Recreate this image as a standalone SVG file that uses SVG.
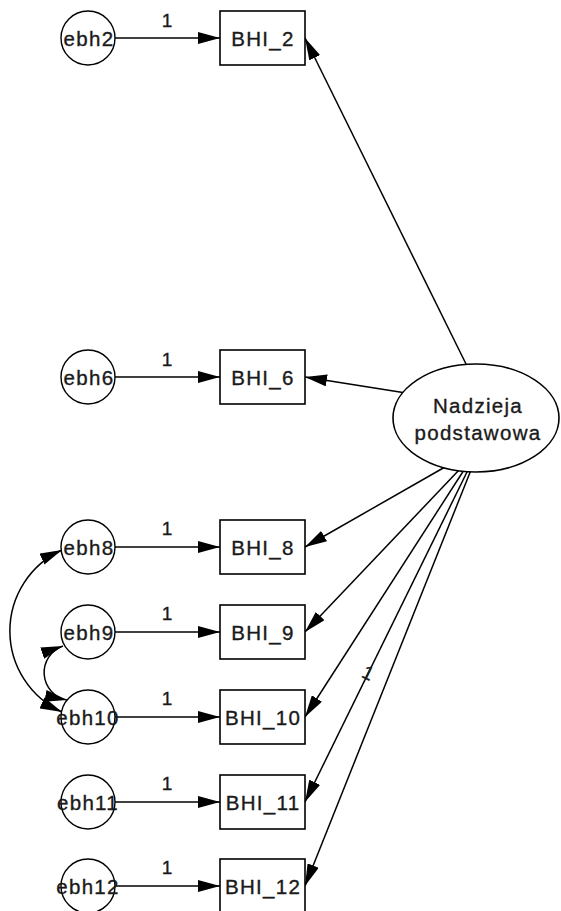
<svg xmlns="http://www.w3.org/2000/svg" width="561" height="911" viewBox="0 0 561 911">
  <style>
    text { font-family: "Liberation Sans", Arial, sans-serif; font-size: 20.5px; letter-spacing: 1.3px; fill: #1a1a1a; stroke: #1a1a1a; stroke-width: 0.35; text-anchor: middle; }
    .lbl { font-size: 19px; letter-spacing: 0; }
    .err { fill: #fff; stroke: #000; stroke-width: 1.4; }
    .obs { fill: #fff; stroke: #000; stroke-width: 1.6; }
    .lat { fill: #fff; stroke: #000; stroke-width: 1.6; }
    .path { fill: none; stroke: #000; stroke-width: 1.5; marker-end: url(#ah); }
    .cov { fill: none; stroke: #000; stroke-width: 1.5; marker-start: url(#ahs); marker-end: url(#ah); }
  </style>
  <defs>
    <marker id="ah" viewBox="0 0 22 12" refX="22" refY="6" markerWidth="22" markerHeight="12" markerUnits="userSpaceOnUse" orient="auto">
      <path d="M0,0 L22,6 L0,12 z" fill="#000"/>
    </marker>
    <marker id="ahs" viewBox="0 0 22 12" refX="22" refY="6" markerWidth="22" markerHeight="12" markerUnits="userSpaceOnUse" orient="auto-start-reverse">
      <path d="M0,0 L22,6 L0,12 z" fill="#000"/>
    </marker>
  </defs>

  <rect width="561" height="911" fill="#fff"/>

  <!-- connectors: error terms to indicators, factor loadings, covariances -->
  <g id="connectors">
    <line class="path" x1="115" y1="38" x2="220" y2="38"/>
    <line class="path" x1="115" y1="377" x2="220" y2="377"/>
    <line class="path" x1="115" y1="547" x2="220" y2="547"/>
    <line class="path" x1="115" y1="632" x2="220" y2="632"/>
    <line class="path" x1="115" y1="717" x2="220" y2="717"/>
    <line class="path" x1="115" y1="802" x2="220" y2="802"/>
    <line class="path" x1="115" y1="886" x2="220" y2="886"/>

    <line class="path" x1="468" y1="368" x2="305" y2="38"/>
    <line class="path" x1="406" y1="393" x2="305" y2="377"/>
    <line class="path" x1="445" y1="467" x2="305" y2="547"/>
    <line class="path" x1="459" y1="470" x2="305" y2="632"/>
    <line class="path" x1="464" y1="470" x2="305" y2="717"/>
    <line class="path" x1="468" y1="470" x2="305" y2="802"/>
    <line class="path" x1="471" y1="470" x2="305" y2="886"/>

    <path class="cov" d="M62,550 A89,89 0 0 0 62,712"/>
    <path class="cov" d="M63,646 A28,28 0 0 0 67,700"/>

    <text class="lbl" x="167" y="27">1</text>
    <text class="lbl" x="167" y="366">1</text>
    <text class="lbl" x="167" y="535">1</text>
    <text class="lbl" x="167" y="620">1</text>
    <text class="lbl" x="167" y="705">1</text>
    <text class="lbl" x="167" y="790">1</text>
    <text class="lbl" x="167" y="874">1</text>
    <text class="lbl" transform="translate(368,673) rotate(26)" x="0" y="6.5">1</text>
  </g>

  <!-- latent factor -->
  <g id="Nadzieja_podstawowa">
    <ellipse class="lat" cx="476" cy="418" rx="83" ry="54"/>
    <text x="478" y="413">Nadzieja</text>
    <text x="478" y="440">podstawowa</text>
  </g>

  <!-- observed indicators -->
  <g id="BHI_2"><rect class="obs" x="220" y="11" width="85" height="54"/><text x="263" y="46">BHI_2</text></g>
  <g id="BHI_6"><rect class="obs" x="220" y="350" width="85" height="54"/><text x="263" y="385">BHI_6</text></g>
  <g id="BHI_8"><rect class="obs" x="220" y="520" width="85" height="54"/><text x="263" y="555">BHI_8</text></g>
  <g id="BHI_9"><rect class="obs" x="220" y="605" width="85" height="54"/><text x="263" y="640">BHI_9</text></g>
  <g id="BHI_10"><rect class="obs" x="220" y="690" width="85" height="54"/><text x="263" y="725">BHI_10</text></g>
  <g id="BHI_11"><rect class="obs" x="220" y="775" width="85" height="54"/><text x="263" y="810">BHI_11</text></g>
  <g id="BHI_12"><rect class="obs" x="220" y="859" width="85" height="54"/><text x="263" y="894">BHI_12</text></g>

  <!-- error terms -->
  <g id="ebh2"><circle class="err" cx="88" cy="38" r="27"/><text x="89" y="46">ebh2</text></g>
  <g id="ebh6"><circle class="err" cx="88" cy="377" r="27"/><text x="89" y="385">ebh6</text></g>
  <g id="ebh8"><circle class="err" cx="88" cy="547" r="27"/><text x="89" y="555">ebh8</text></g>
  <g id="ebh9"><circle class="err" cx="88" cy="632" r="27"/><text x="89" y="640">ebh9</text></g>
  <g id="ebh10"><circle class="err" cx="88" cy="717" r="27"/><text x="88" y="725">ebh10</text></g>
  <g id="ebh11"><circle class="err" cx="88" cy="802" r="27"/><text x="88" y="810">ebh11</text></g>
  <g id="ebh12"><circle class="err" cx="88" cy="886" r="27"/><text x="88" y="894">ebh12</text></g>
</svg>
